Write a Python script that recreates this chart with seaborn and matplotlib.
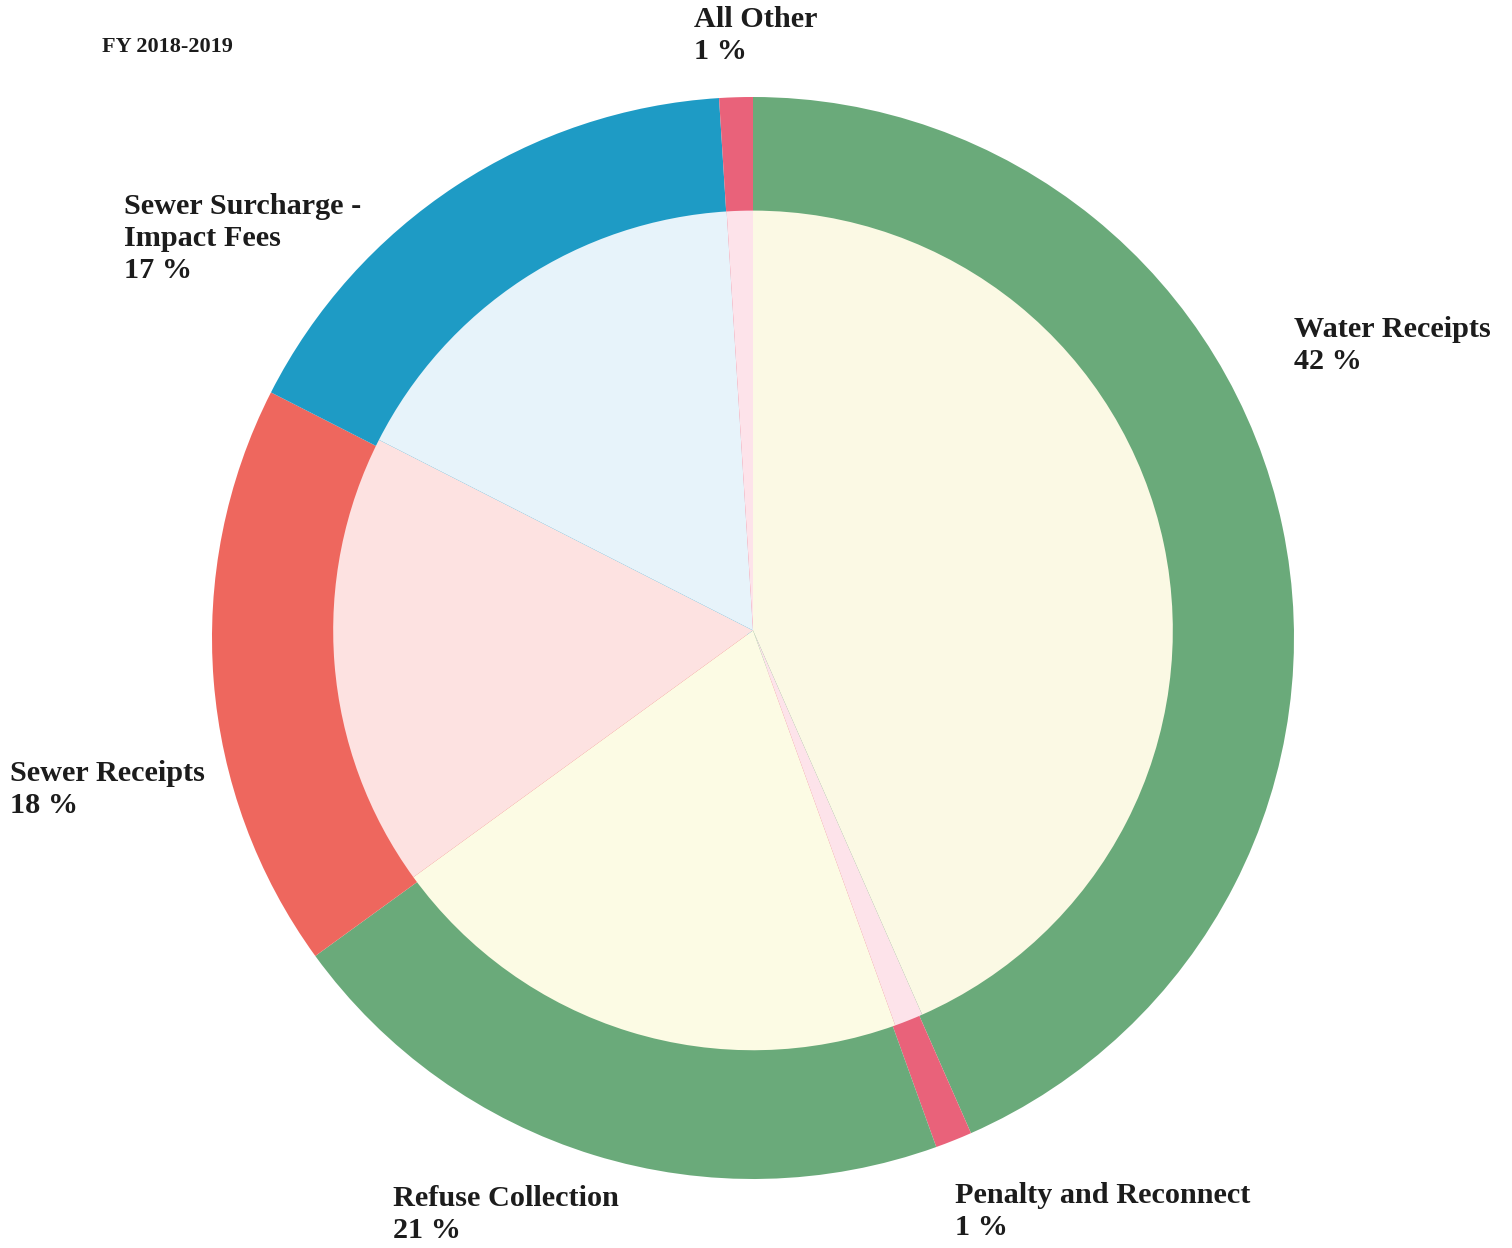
import matplotlib
matplotlib.use("Agg")
import matplotlib.pyplot as plt
import seaborn as sns

sns.set_theme(style="white")
plt.rcParams['font.family'] = ['Liberation Serif', 'DejaVu Serif']

# Data (clockwise from 12 o'clock)
categories = ["Water Receipts", "Penalty and Reconnect", "Refuse Collection",
              "Sewer Receipts", "Sewer Surcharge -\nImpact Fees", "All Other"]
shares = [43.4, 1.1, 20.5, 17.5, 16.5, 1.0]          # wedge sizes
pct_labels = ["42 %", "1 %", "21 %", "18 %", "17 %", "1 %"]  # printed labels
outer_colors = ["#6aaa7a", "#e9627a", "#6aaa7a", "#ee675e", "#1e9bc5", "#e9627a"]
inner_colors = ["#fbf9e4", "#fde3ea", "#fcfbe4", "#fde2e1", "#e7f3fa", "#fde3ea"]
title = "FY 2018-2019"

W, H = 1512, 1248
fig = plt.figure(figsize=(W / 100, H / 100), dpi=100)
fig.patch.set_facecolor("white")

cx, cy, R = 753, 638, 541
ax = fig.add_axes([(cx - R) / W, (H - cy - R) / H, 2 * R / W, 2 * R / H])

ax.pie(shares, colors=outer_colors, startangle=90, counterclock=False,
       radius=1.0, wedgeprops=dict(linewidth=0, edgecolor="none"))
ax.pie(shares, colors=inner_colors, startangle=90, counterclock=False,
       radius=0.776, center=(0, 0.014), wedgeprops=dict(linewidth=0, edgecolor="none"))
ax.set_xlim(-1, 1)
ax.set_ylim(-1, 1)
ax.set_aspect("equal")
ax.axis("off")

# label positions (left x, top y in pixels)
label_pos = [(1294, 316), (955, 1182), (393, 1185), (10, 760), (124, 193), (694, 6)]
for cat, pct, (px, py) in zip(categories, pct_labels, label_pos):
    fig.text(px / W, 1 - py / H, f"{cat}\n{pct}", ha="left", va="top",
             fontsize=21.8, fontweight="bold", color="#1c1c1c", linespacing=1.23)

fig.text(102 / W, 1 - 37 / H, title, ha="left", va="top",
         fontsize=16, fontweight="bold", color="#1c1c1c")

fig.savefig("out.png", dpi=100, facecolor="white")
